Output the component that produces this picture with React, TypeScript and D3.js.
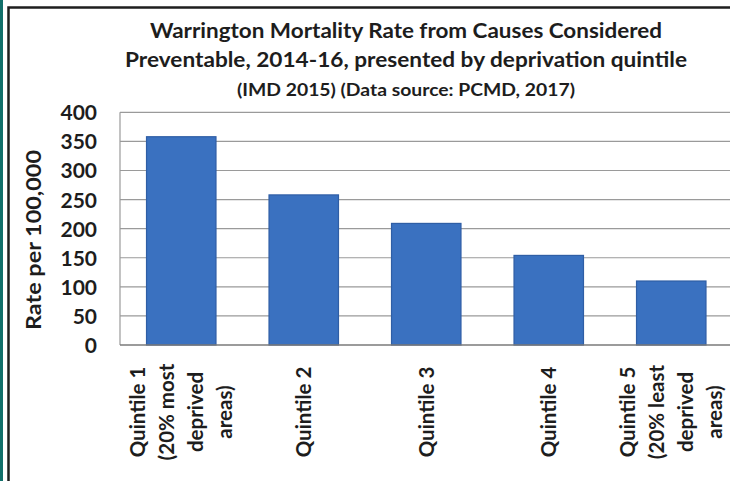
import * as d3 from "d3";
import { useEffect, useRef } from "react";

const categories: string[][] = [
    ["Quintile 1", "(20% most", "deprived", "areas)"],
    ["Quintile 2"],
    ["Quintile 3"],
    ["Quintile 4"],
    ["Quintile 5", "(20% least", "deprived", "areas)"],
];
const rates: number[] = [358, 258, 209, 154, 110];
const yTicks: number[] = [0, 50, 100, 150, 200, 250, 300, 350, 400];
const titleLines: string[] = [
    "Warrington Mortality Rate from Causes Considered",
    "Preventable, 2014-16, presented by deprivation quintile",
    "(IMD 2015) (Data source: PCMD, 2017)",
];
const yLabel = "Rate per 100,000";

const W = 730;
const H = 481;
const FONT = "Lato, 'Open Sans', sans-serif";

export default function App() {
    const ref = useRef<SVGSVGElement | null>(null);

    useEffect(() => {
        if (!ref.current) return;
        const svg = d3.select(ref.current);
        svg.selectAll("*").remove(); // reset

        const left = 120, right = 732.5, top = 112.3, bottom = 345;
        const names = categories.map(c => c.join(" "));

        const x = d3.scaleBand<string>()
            .domain(names)
            .range([left, right])
            .paddingInner(0.433)
            .paddingOuter(0.2165);
        const y = d3.scaleLinear().domain([0, 400]).range([bottom, top]);

        svg.append("rect").attr("width", W).attr("height", H).attr("fill", "#fff");

        // teal strip and black frame
        svg.append("rect").attr("x", 0).attr("y", 0).attr("width", 3).attr("height", H).attr("fill", "#12706b");
        svg.append("rect")
            .attr("x", 8.5).attr("y", 7.5)
            .attr("width", W + 20).attr("height", H + 20)
            .attr("fill", "none").attr("stroke", "#1e1e1e").attr("stroke-width", 2.5);

        // title
        const titleSizes = [21, 21, 16.5];
        const titleWidths = [512, 562, 338];
        const titleY = [38, 67, 96];
        svg.append("g")
            .selectAll("text")
            .data(titleLines)
            .join("text")
            .attr("x", 406)
            .attr("y", (_, i) => titleY[i])
            .attr("text-anchor", "middle")
            .attr("font-family", FONT)
            .attr("font-weight", 700)
            .attr("font-size", (_, i) => titleSizes[i])
            .attr("fill", "#1d1d1d")
            .attr("textLength", (_, i) => titleWidths[i])
            .attr("lengthAdjust", "spacingAndGlyphs")
            .text(d => d);

        // grid lines
        const g = svg.append("g");
        g.selectAll("line.grid")
            .data(yTicks.filter(v => v > 0))
            .join("line")
            .attr("class", "grid")
            .attr("x1", left).attr("x2", W)
            .attr("y1", d => y(d)).attr("y2", d => y(d))
            .attr("stroke", "#9a9a9a").attr("stroke-width", 1.2);

        // plot left edge
        g.append("line")
            .attr("x1", left).attr("x2", left)
            .attr("y1", y(400)).attr("y2", y(0))
            .attr("stroke", "#9a9a9a").attr("stroke-width", 1.2);

        // bars
        g.selectAll("rect.bar")
            .data(rates)
            .join("rect")
            .attr("class", "bar")
            .attr("x", (_, i) => x(names[i])!)
            .attr("width", x.bandwidth())
            .attr("y", d => y(d))
            .attr("height", d => y(0) - y(d))
            .attr("fill", "#3a71c0")
            .attr("stroke", "#2f5ea5")
            .attr("stroke-width", 1.2);

        g.append("line")
            .attr("x1", left).attr("x2", W)
            .attr("y1", y(0)).attr("y2", y(0))
            .attr("stroke", "#7a7a7a").attr("stroke-width", 1.5);

        // y tick labels
        svg.append("g")
            .selectAll("text")
            .data(yTicks)
            .join("text")
            .attr("x", 97)
            .attr("y", d => y(d))
            .attr("dy", "0.38em")
            .attr("text-anchor", "end")
            .attr("font-family", FONT)
            .attr("font-weight", 700)
            .attr("font-size", 21)
            .attr("fill", "#1d1d1d")
            .text(d => String(d));

        // y axis title
        svg.append("text")
            .attr("transform", "translate(41, 240) rotate(-90)")
            .attr("text-anchor", "middle")
            .attr("font-family", FONT)
            .attr("font-weight", 700)
            .attr("font-size", 20)
            .attr("fill", "#1d1d1d")
            .attr("textLength", 180)
            .attr("lengthAdjust", "spacingAndGlyphs")
            .text(yLabel);

        // x category labels, rotated, multi-line
        const lineGap = 29;
        const labels = svg.append("g")
            .selectAll("g")
            .data(categories)
            .join("g")
            .attr("transform", (_, i) => `translate(${x(names[i])! + x.bandwidth() / 2}, 412) rotate(-90)`);

        labels.selectAll("text")
            .data(d => d.map((line, j) => ({ line, j, n: d.length })))
            .join("text")
            .attr("x", 0)
            .attr("y", d => (d.j - (d.n - 1) / 2) * lineGap + 7.5)
            .attr("text-anchor", "middle")
            .attr("font-family", FONT)
            .attr("font-weight", 700)
            .attr("font-size", 20.5)
            .attr("fill", "#1d1d1d")
            .text(d => d.line);
    }, []);

    return (
        <svg
            ref={ref}
            width={W}
            height={H}
            style={{ position: "absolute", left: 0, top: 0, display: "block" }}
        />
    );
}
